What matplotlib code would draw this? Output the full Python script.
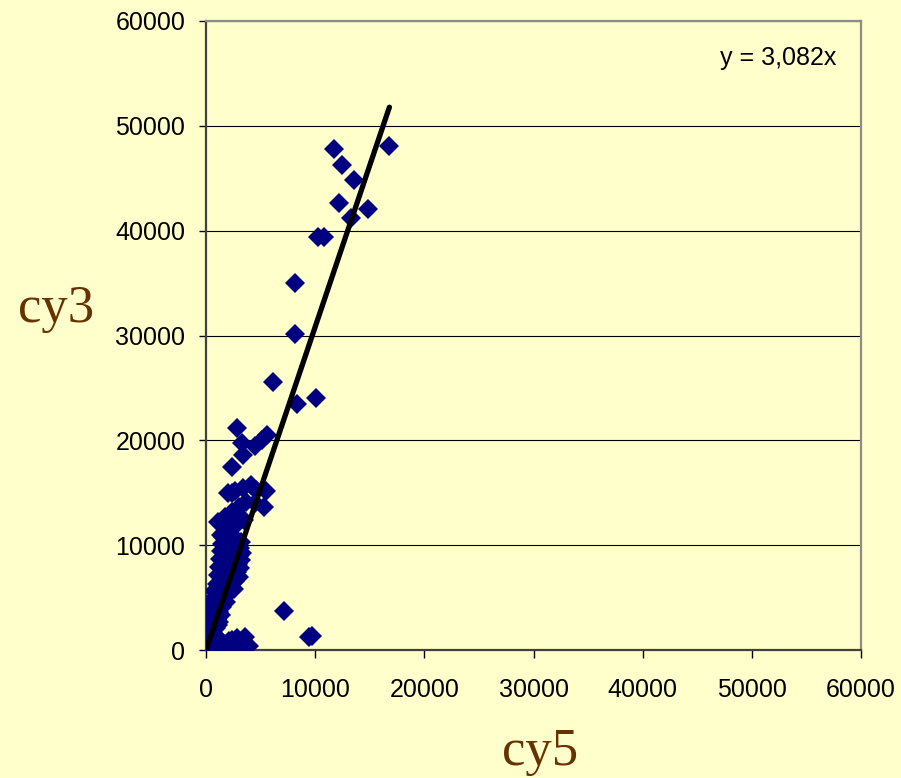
import numpy as np
import matplotlib.pyplot as plt

# cy5 (x) and cy3 (y) intensities
cy5 = [11700, 12500, 13600, 12200, 14800, 13300, 16800, 10300, 10800, 8150,
       8150, 6100, 8300, 10100, 2850, 3300, 4500, 5100, 5600, 3350,
       2400, 2350, 4600, 5500, 5300, 2000, 2700, 3400, 4100, 1100,
       1700, 2400, 3000, 3700, 4500, 1400, 2100, 2800, 3500,
       1600, 2000, 2400, 2800, 3200, 1500, 1900, 2300, 2700, 3100,
       1400, 1800, 2200, 2600, 3000, 3300, 1300, 1700, 2100, 2500, 2900, 3200,
       1200, 1600, 2000, 2400, 2800, 3100, 1100, 1500, 1900, 2300, 2700, 3000,
       1000, 1400, 1800, 2200, 2600, 700, 1100, 1500, 1900, 2100,
       600, 1000, 1400, 1800, 1500, 500, 900, 1200, 1400,
       400, 700, 1000, 1200, 300, 600, 900, 1100,
       200, 500, 800, 300, 200, 500, 800, 100, 300, 600, 50, 200, 400,
       900, 1200, 1500, 1800, 2100, 2400, 2700, 3000, 3300, 3600, 3900, 3500,
       1000, 2000, 2350, 2800, 7100, 9400, 9700]
cy3 = [47800, 46300, 44800, 42600, 42100, 41200, 48100, 39400, 39400, 35000,
       30100, 25600, 23500, 24000, 21200, 19700, 19500, 20000, 20500, 18600,
       17500, 15000, 15300, 15200, 13600, 14950, 15200, 15500, 15700, 12200,
       12700, 13200, 13600, 14100, 14000, 11000, 11500, 12000, 12400,
       10800, 10600, 10900, 10500, 10300, 10100, 9900, 10200, 9800, 9700,
       9400, 9200, 9500, 9100, 9000, 9300, 8700, 8500, 8800, 8400, 8200, 8600,
       7900, 7700, 8000, 7600, 7400, 7800, 7200, 6900, 7100, 6800, 6600, 7000,
       6300, 6100, 6400, 6000, 5800, 5600, 5400, 5700, 5200, 5800,
       4900, 4700, 4500, 4600, 4100, 4100, 3900, 3600, 3300,
       3400, 3100, 2900, 2700, 2500, 2300, 2100, 2400,
       1800, 1600, 1400, 1200, 1300, 1100, 1000, 700, 500, 400, 200, 100, 900,
       300, 500, 800, 600, 900, 700, 500, 900, 600, 1200, 350, 250,
       150, 250, 1000, 1100, 3700, 1200, 1300]

slope = 3.082
ticks = [0, 10000, 20000, 30000, 40000, 50000, 60000]

bg = '#FFFFCC'
brown = '#663300'

fig = plt.figure(figsize=(9.01, 7.78), dpi=100, facecolor=bg)
ax = fig.add_axes([206 / 901, 128 / 778, 655 / 901, 629 / 778], facecolor=bg)

ax.plot(cy5, cy3, 'D', color='#000080', markersize=10.5, markeredgewidth=0, zorder=3)

fit_x = np.array([0, max(cy5)])
ax.plot(fit_x, slope * fit_x, color='black', linewidth=3.8, solid_capstyle='round', zorder=4)

ax.set_xlim(0, 60000)
ax.set_ylim(0, 60000)
ax.set_xticks(ticks)
ax.set_yticks(ticks)
ax.yaxis.grid(True, color='black', linewidth=0.8)
ax.set_axisbelow(True)

ax.tick_params(axis='y', direction='out', length=5, width=1, pad=10,
               labelsize=18, colors='black')
ax.tick_params(axis='x', direction='out', length=6, width=1, pad=14,
               labelsize=18, colors='black')
for lbl in ax.get_xticklabels() + ax.get_yticklabels():
    lbl.set_fontfamily('Liberation Sans')

for side in ['left', 'bottom']:
    ax.spines[side].set_color('#404040')
    ax.spines[side].set_linewidth(1.6)
for side in ['top', 'right']:
    ax.spines[side].set_color('#8c8c8c')
    ax.spines[side].set_linewidth(1.6)

ax.text(0.963, 0.941, 'y = 3,082x', transform=ax.transAxes, ha='right', va='center',
        fontsize=18, family='Liberation Sans')

fig.text(18 / 901, 1 - 322 / 778, 'cy3', ha='left', va='baseline', fontsize=38,
         family='Liberation Serif', color=brown)
fig.text(502 / 901, 1 - 765 / 778, 'cy5', ha='left', va='baseline', fontsize=38,
         family='Liberation Serif', color=brown)

fig.savefig('out.png', dpi=100, facecolor=bg)
